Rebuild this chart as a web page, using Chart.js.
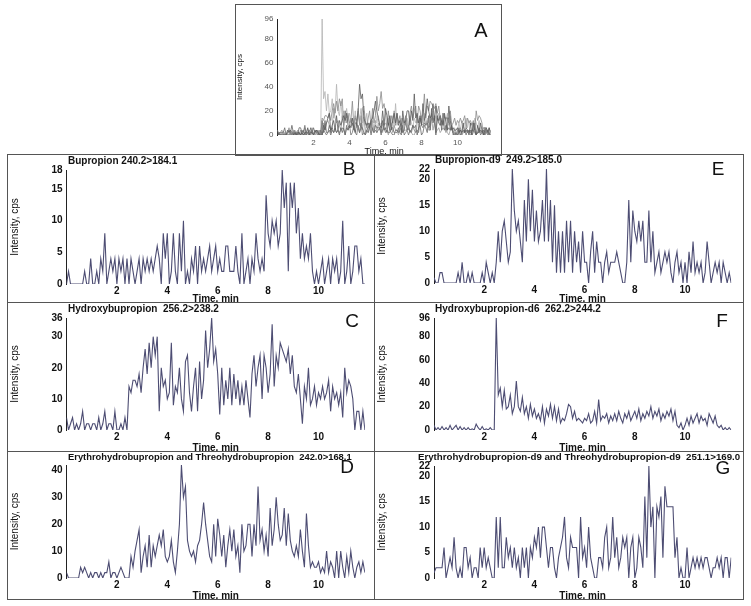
<!DOCTYPE html>
<html>
<head>
<meta charset="utf-8">
<script src="https://cdn.jsdelivr.net/npm/chart.js@4.4.0/dist/chart.umd.min.js"></script>
<style>
  body { margin: 0; background: #fff; }
  #wrap { position: relative; width: 751px; height: 606px; overflow: hidden; }
  .panel { position: absolute; border: 1px solid #555; box-sizing: border-box; }
  .panel canvas { position: absolute; left: 0; top: 0; }
</style>
</head>
<body>
<div id="wrap"></div>
<script>
/* -----------------------------------------------------------
      DATA (time in min, intensity in cps)
------------------------------------------------------------*/
const times = [
  0, 0.08, 0.16, 0.24, 0.32, 0.4, 0.48, 0.56, 0.64, 0.72,
  0.8, 0.88, 0.96, 1.04, 1.12, 1.2, 1.28, 1.36, 1.44, 1.52,
  1.6, 1.68, 1.76, 1.84, 1.92, 2, 2.08, 2.16, 2.24, 2.32,
  2.4, 2.48, 2.56, 2.64, 2.72, 2.8, 2.88, 2.96, 3.04, 3.12,
  3.2, 3.28, 3.36, 3.44, 3.52, 3.6, 3.68, 3.76, 3.84, 3.92,
  4, 4.08, 4.16, 4.24, 4.32, 4.4, 4.48, 4.56, 4.64, 4.72,
  4.8, 4.88, 4.96, 5.04, 5.12, 5.2, 5.28, 5.36, 5.44, 5.52,
  5.6, 5.68, 5.76, 5.84, 5.92, 6, 6.08, 6.16, 6.24, 6.32,
  6.4, 6.48, 6.56, 6.64, 6.72, 6.8, 6.88, 6.96, 7.04, 7.12,
  7.2, 7.28, 7.36, 7.44, 7.52, 7.6, 7.68, 7.76, 7.84, 7.92,
  8, 8.08, 8.16, 8.24, 8.32, 8.4, 8.48, 8.56, 8.64, 8.72,
  8.8, 8.88, 8.96, 9.04, 9.12, 9.2, 9.28, 9.36, 9.44, 9.52,
  9.6, 9.68, 9.76, 9.84, 9.92, 10, 10.08, 10.16, 10.24, 10.32,
  10.4, 10.48, 10.56, 10.64, 10.72, 10.8, 10.88, 10.96, 11.04, 11.12,
  11.2, 11.28, 11.36, 11.44, 11.52, 11.6, 11.68, 11.76, 11.84
];

// B - Bupropion 240.2>184.1
const bupropion = [
  0, 2, 0, 0, 0, 0, 0, 0, 0, 2,
  0, 0, 4, 0, 0, 2, 0, 4, 2, 8,
  0, 2, 4, 2, 4, 0, 4, 2, 4, 0,
  4, 0, 4, 2, 0, 2, 4, 0, 4, 2,
  4, 2, 4, 2, 4, 6, 4, 0, 8, 4,
  8, 0, 2, 8, 2, 0, 8, 2, 10, 0,
  2, 0, 4, 2, 6, 0, 6, 2, 4, 2,
  4, 6, 2, 4, 6, 2, 4, 2, 2, 6,
  6, 2, 2, 2, 6, 2, 0, 8, 0, 2,
  4, 0, 4, 2, 8, 4, 2, 4, 2, 14,
  8, 6, 10, 8, 10, 6, 8, 18, 12, 16,
  2, 16, 12, 16, 8, 12, 4, 8, 4, 6,
  4, 8, 2, 0, 2, 0, 2, 4, 0, 2,
  4, 0, 4, 2, 4, 0, 2, 10, 0, 2,
  6, 0, 2, 6, 6, 2, 4, 0, 0
];

// E - Bupropion-d9 249.2>185.0
const bupropionD9 = [
  1, 0, 0, 2, 2, 0, 0, 0, 0, 0,
  0, 0, 2, 0, 4, 0, 0, 2, 0, 2,
  0, 0, 0, 0, 2, 0, 4, 2, 0, 2,
  0, 4, 10, 4, 10, 12, 8, 4, 6, 22,
  14, 10, 12, 8, 4, 16, 8, 20, 10, 18,
  8, 14, 8, 10, 16, 8, 22, 8, 16, 4,
  15, 2, 10, 2, 10, 2, 12, 4, 12, 2,
  10, 4, 8, 2, 10, 4, 4, 0, 6, 10,
  2, 8, 4, 4, 0, 4, 6, 2, 4, 4,
  4, 6, 4, 2, 0, 0, 4, 16, 4, 14,
  10, 8, 12, 8, 12, 4, 4, 14, 4, 10,
  2, 4, 6, 2, 4, 6, 4, 6, 2, 0,
  4, 6, 2, 4, 0, 4, 0, 6, 2, 8,
  2, 4, 2, 4, 0, 2, 8, 4, 0, 2,
  4, 2, 4, 0, 4, 2, 0, 2, 0
];

// C - Hydroxybupropion 256.2>238.2
const hydroxy = [
  4, 0, 2, 4, 0, 2, 0, 2, 6, 0,
  2, 2, 0, 2, 2, 0, 4, 0, 2, 6,
  0, 2, 2, 0, 6, 0, 0, 2, 0, 4,
  0, 14, 12, 16, 16, 14, 18, 12, 20, 26,
  18, 28, 20, 30, 24, 30, 6, 20, 14, 16,
  10, 12, 28, 8, 14, 12, 20, 10, 6, 22,
  24, 12, 6, 14, 20, 6, 22, 10, 16, 32,
  20, 26, 36, 22, 26, 18, 5, 20, 8, 16,
  10, 20, 8, 18, 10, 16, 8, 14, 8, 16,
  10, 4, 18, 24, 14, 20, 24, 10, 24, 20,
  12, 18, 34, 14, 24, 20, 28, 26, 24, 22,
  26, 18, 24, 14, 12, 18, 10, 2, 14, 10,
  20, 8, 10, 14, 8, 12, 10, 14, 10, 12,
  16, 6, 14, 10, 12, 8, 12, 4, 20, 12,
  16, 14, 10, 0, 6, 6, 0, 6, 0
];

// F - Hydroxybupropion-d6 262.2>244.2
const hydroxyD6 = [
  4, 0, 2, 0, 3, 0, 2, 0, 4, 0,
  2, 4, 0, 3, 0, 2, 0, 2, 0, 1,
  0, 5, 2, 0, 3, 0, 1, 0, 2, 0,
  0, 96, 30, 36, 20, 34, 18, 20, 30, 14,
  20, 42, 20, 16, 28, 14, 20, 10, 22, 12,
  18, 10, 14, 8, 20, 6, 18, 12, 22, 10,
  20, 8, 18, 6, 10, 8, 14, 22, 20, 10,
  16, 8, 10, 8, 6, 10, 8, 14, 6, 8,
  16, 6, 26, 8, 12, 10, 14, 6, 12, 8,
  14, 8, 16, 10, 6, 14, 10, 16, 8, 12,
  16, 10, 18, 8, 14, 10, 16, 12, 20, 10,
  16, 12, 18, 8, 14, 10, 16, 12, 18, 8,
  16, 4, 2, 6, 0, 4, 10, 4, 12, 6,
  10, 14, 6, 12, 8, 10, 4, 14, 10, 6,
  12, 4, 2, 4, 0, 2, 0, 2, 0
];

// D - Erythrohydrobupropion and Threohydrobupropion 242.0>168.1
const erythro = [
  2, 0, 0, 0, 0, 0, 0, 4, 2, 4,
  2, 0, 2, 0, 2, 2, 0, 2, 0, 2,
  2, 6, 0, 2, 2, 0, 2, 4, 2, 0,
  0, 0, 8, 4, 10, 14, 18, 2, 8, 12,
  4, 16, 4, 12, 8, 12, 16, 12, 18, 8,
  6, 8, 14, 6, 2, 10, 20, 42, 30, 34,
  14, 10, 8, 10, 6, 12, 14, 20, 28, 20,
  14, 8, 6, 20, 8, 22, 16, 8, 16, 4,
  12, 18, 10, 18, 8, 12, 2, 20, 10, 12,
  20, 20, 8, 20, 12, 34, 14, 18, 10, 16,
  8, 26, 12, 18, 30, 20, 14, 16, 26, 12,
  24, 14, 10, 8, 12, 8, 18, 10, 4, 24,
  12, 4, 6, 4, 4, 6, 2, 4, 2, 10,
  2, 6, 4, 0, 10, 0, 10, 4, 0, 8,
  2, 10, 4, 0, 4, 6, 2, 6, 2
];

// G - Erythrohydrobupropion-d9 and Threohydrobupropion-d9 251.1>169.0
const erythroD9 = [
  1, 2, 2, 2, 2, 6, 0, 2, 4, 2,
  8, 2, 0, 2, 0, 6, 6, 2, 4, 0,
  2, 2, 0, 6, 2, 6, 2, 4, 2, 0,
  0, 12, 2, 12, 2, 2, 8, 4, 6, 2,
  6, 2, 4, 0, 6, 2, 6, 0, 6, 4,
  8, 6, 10, 4, 10, 10, 6, 2, 6, 6,
  2, 0, 4, 6, 8, 12, 4, 2, 8, 6,
  6, 6, 0, 12, 4, 6, 2, 10, 4, 2,
  0, 0, 4, 4, 2, 8, 10, 2, 4, 12,
  4, 8, 2, 4, 8, 6, 8, 0, 6, 8,
  0, 2, 8, 6, 2, 16, 4, 22, 10, 14,
  0, 14, 12, 16, 4, 18, 14, 14, 14, 14,
  4, 8, 0, 2, 0, 0, 6, 0, 2, 4,
  2, 4, 2, 4, 2, 4, 4, 2, 0, 2,
  2, 4, 2, 4, 0, 4, 4, 0, 4
];

/* TICK LABELS */
const xTicks = [2, 4, 6, 8, 10];
const yTicksA = [0, 20, 40, 60, 80, 96];
const yTicksB = [0, 5, 10, 15, 18];
const yTicksE = [0, 5, 10, 15, 20, 22];
const yTicksC = [0, 10, 20, 30, 36];
const yTicksF = [0, 20, 40, 60, 80, 96];
const yTicksD = [0, 10, 20, 30, 40];
const yTicksG = [0, 5, 10, 15, 20, 22];

/* TITLES */
const titleB = "Bupropion 240.2>184.1";
const titleE = "Bupropion-d9  249.2>185.0";
const titleC = "Hydroxybupropion  256.2>238.2";
const titleF = "Hydroxybupropion-d6  262.2>244.2";
const titleD = "Erythrohydrobupropion and Threohydrobupropion  242.0>168.1";
const titleG = "Erythrohydrobupropion-d9 and Threohydrobupropion-d9  251.1>169.0";

const TRACE = "#4d4d73";
const FONT = "'Liberation Sans', Arial, sans-serif";

/* -----------------------------------------------------------
      PANEL LAYOUT (page pixels)
      box  = [left, top, right, bottom] of the frame
      plot = [x at t=0, x at t=xMax, y at yMax, y at 0]
------------------------------------------------------------*/
const panels = [
  {
    letter: "A", box: [235, 4, 501, 155], plot: [277.5, 490.6, 19, 135],
    yMax: 96, yTicks: yTicksA, overlay: true,
    series: [
      [erythro, "#5a5a5a"], [bupropion, "#707070"], [hydroxy, "#8a8a8a"],
      [erythroD9, "#666"], [bupropionD9, "#9a9a9a"], [hydroxyD6, "#b4b4b4"]
    ],
    tickFont: 8, tickBold: false, tickColor: "#555",
    yTitleFont: 8, yTitlePad: -1, xTitleFont: 9, xTitleBold: false, xTitlePad: -1.5,
    tickPadX: 3, tickPadY: 4,
    letterPos: [481, 31], letterSize: 20
  },
  {
    letter: "B", box: [7, 154, 374, 302], plot: [66.5, 364.9, 170, 284],
    yMax: 18, yTicks: yTicksB, series: [[bupropion, TRACE]],
    title: titleB, titlePos: [68, 161], titleSize: 10,
    letterPos: [349, 170]
  },
  {
    letter: "E", box: [374, 154, 743, 302], plot: [434, 731.2, 169, 283],
    yMax: 22, yTicks: yTicksE, series: [[bupropionD9, TRACE]],
    title: titleE, titlePos: [435, 160.5], titleSize: 10,
    letterPos: [718, 170]
  },
  {
    letter: "C", box: [7, 302, 374, 451], plot: [66.5, 364.9, 318, 430],
    yMax: 36, yTicks: yTicksC, series: [[hydroxy, TRACE]],
    title: titleC, titlePos: [68, 309.5], titleSize: 10,
    letterPos: [352, 322]
  },
  {
    letter: "F", box: [374, 302, 743, 451], plot: [434, 731.2, 318, 430],
    yMax: 96, yTicks: yTicksF, series: [[hydroxyD6, TRACE]],
    title: titleF, titlePos: [435, 309.5], titleSize: 10,
    letterPos: [722, 322]
  },
  {
    letter: "D", box: [7, 451, 374, 599], plot: [66.5, 364.9, 465, 578],
    yMax: 42, yTicks: yTicksD, series: [[erythro, TRACE]],
    title: titleD, titlePos: [68, 457.5], titleSize: 9.4,
    letterPos: [347, 468]
  },
  {
    letter: "G", box: [374, 451, 743, 599], plot: [434, 731.2, 466, 578],
    yMax: 22, yTicks: yTicksG, series: [[erythroD9, TRACE]],
    title: titleG, titlePos: [418, 457.5], titleSize: 9.7,
    letterPos: [723, 469]
  }
];

/* -----------------------------------------------------------
      TEXT PLUGIN (compound name + panel letter)
------------------------------------------------------------*/
const panelText = {
  id: "panelText",
  afterDraw(chart, args, opts) {
    const ctx = chart.ctx;
    ctx.save();
    ctx.fillStyle = "#111";
    ctx.textBaseline = "middle";
    if (opts.title) {
      ctx.font = "bold " + opts.titleSize + "px " + FONT;
      ctx.textAlign = "left";
      ctx.fillText(opts.title, opts.tx, opts.ty);
    }
    ctx.font = opts.letterSize + "px " + FONT;
    ctx.textAlign = "center";
    ctx.fillText(opts.letter, opts.lx, opts.ly);
    ctx.restore();
  }
};

/* -----------------------------------------------------------
      BUILD ONE PANEL
------------------------------------------------------------*/
function makePanel(p) {
  const [bl, bt, br, bb] = p.box;
  const div = document.createElement("div");
  div.className = "panel";
  div.style.left = bl + "px";
  div.style.top = bt + "px";
  div.style.width = (br - bl + 1) + "px";
  div.style.height = (bb - bt + 1) + "px";
  document.getElementById("wrap").appendChild(div);

  const ox = bl + 1, oy = bt + 1;
  const cw = br - bl - 1, ch = bb - bt - 1;
  const canvas = document.createElement("canvas");
  canvas.width = cw;
  canvas.height = ch;
  canvas.style.width = cw + "px";
  canvas.style.height = ch + "px";
  div.appendChild(canvas);

  const [x0, x1, yTop, yZero] = p.plot;
  const tickFont = p.tickFont || 10;
  const tickBold = p.tickBold !== false;
  const tickColor = p.tickColor || "#111";

  const datasets = p.series.map(([vals, color]) => ({
    data: times.map((t, i) => ({ x: t, y: vals[i] })),
    borderColor: color,
    borderWidth: p.overlay ? 0.8 : 1.1,
    pointRadius: 0,
    tension: 0,
    fill: false
  }));

  new Chart(canvas.getContext("2d"), {
    type: "line",
    data: { datasets },
    plugins: [panelText],
    options: {
      responsive: false,
      animation: false,
      devicePixelRatio: 1,
      layout: { padding: { left: 0, top: yTop - oy, right: cw - (x1 - ox), bottom: 0 } },
      plugins: {
        legend: { display: false },
        tooltip: { enabled: false },
        panelText: {
          title: p.title,
          titleSize: p.titleSize,
          tx: p.title ? p.titlePos[0] - ox : 0,
          ty: p.title ? p.titlePos[1] - oy : 0,
          letter: p.letter,
          letterSize: p.letterSize || 19,
          lx: p.letterPos[0] - ox,
          ly: p.letterPos[1] - oy
        }
      },
      scales: {
        x: {
          type: "linear",
          min: 0,
          max: 11.84,
          grid: { display: false, drawTicks: false },
          border: { display: false },
          afterBuildTicks: (s) => { s.ticks = xTicks.map((v) => ({ value: v })); },
          afterFit: (s) => { s.height = ch - (yZero - oy); },
          ticks: {
            autoSkip: false,
            maxRotation: 0,
            padding: p.tickPadX || 1,
            color: tickColor,
            font: { family: FONT, size: tickFont, weight: tickBold ? "bold" : "normal" }
          },
          title: {
            display: true,
            text: "Time, min",
            color: "#111",
            padding: { top: 0, bottom: p.xTitlePad !== undefined ? p.xTitlePad : -2 },
            font: { family: FONT, size: p.xTitleFont || 10, weight: p.xTitleBold === false ? "normal" : "bold", lineHeight: 1 }
          }
        },
        y: {
          min: 0,
          max: p.yMax,
          grid: { display: false, drawTicks: false },
          border: { display: true, color: "#222", width: 1 },
          afterBuildTicks: (s) => { s.ticks = p.yTicks.map((v) => ({ value: v })); },
          afterFit: (s) => { s.width = x0 - ox; },
          ticks: {
            autoSkip: false,
            padding: p.tickPadY || 4,
            color: tickColor,
            font: { family: FONT, size: tickFont, weight: tickBold ? "bold" : "normal" }
          },
          title: {
            display: true,
            text: "Intensity, cps",
            color: "#111",
            padding: { top: p.yTitlePad !== undefined ? p.yTitlePad : 1, bottom: 0 },
            font: { family: FONT, size: p.yTitleFont || 10, lineHeight: 1.2 }
          }
        }
      }
    }
  });
}

panels.forEach(makePanel);
</script>
</body>
</html>
